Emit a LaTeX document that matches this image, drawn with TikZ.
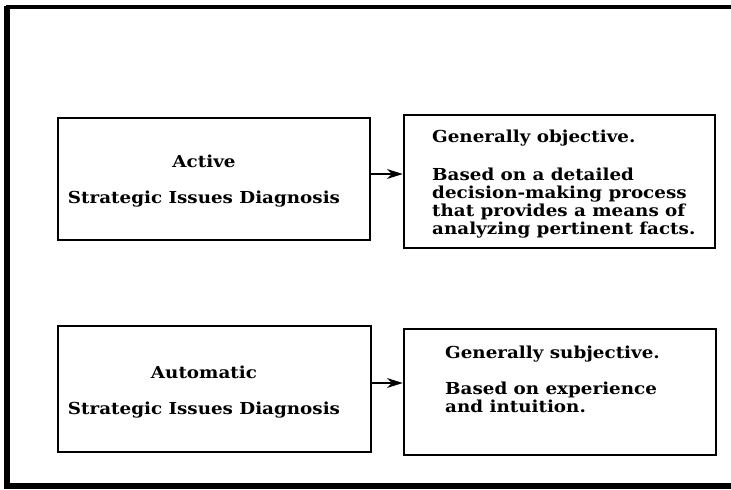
\documentclass[tikz,border=0pt]{standalone}
\usepackage{fontspec}
\usetikzlibrary{arrows.meta}
\newfontfamily\schfont[FakeStretch=1.11]{DejaVu Serif}
\newcommand\lblfont{\schfont\bfseries\fontsize{16.5}{17.7}\selectfont\lineskiplimit=-20pt\relax}
\begin{document}
\begin{tikzpicture}[x=1pt,y=-1pt,
  box/.style={draw, line width=2.4pt, minimum width=#1, inner sep=0pt},
  lbl/.style={font=\lblfont, inner sep=0pt},
  arr/.style={line width=1.5pt, -{Stealth[length=16pt,width=10pt]}}]
\useasboundingbox (0,0) rectangle (731,490);
% outer frame (open on the right)
\draw[line width=3.5pt] (731,7) -- (5.5,7);
\draw[line width=6pt] (7,5.5) -- (7,486) -- (731,486);
% boxes
\node[box=312pt, minimum height=122pt] (b1) at (214,179) {};
\node[box=311pt, minimum height=133pt] (b2) at (559.5,181.5) {};
\node[box=313pt, minimum height=126pt] (b3) at (214.5,389) {};
\node[box=312pt, minimum height=126pt] (b4) at (560,392) {};
% texts
\node[lbl, align=center, anchor=base] (t1) at (204,203) {Active\hspace{26pt}\\[18.3pt]Strategic Issues Diagnosis};
\node[lbl, align=center, anchor=base] (t3) at (204,414) {Automatic\hspace{48pt}\\[18.3pt]Strategic Issues Diagnosis};
\node[lbl, align=left, anchor=base west] (t2) at (432,234) {Generally objective.\\[20.3pt]Based on a detailed\\decision-making process\\that provides a means of\\analyzing pertinent facts.};
\node[lbl, align=left, anchor=base west] (t4) at (445,412) {Generally subjective.\\[18.3pt]Based on experience\\and intuition.};
% arrows
\coordinate (a1) at (0,174);
\coordinate (a2) at (0,383);
\draw[arr] (b1.east |- a1) -- (b2.west |- a1);
\draw[arr] (b3.east |- a2) -- (b4.west |- a2);
\end{tikzpicture}
\end{document}
